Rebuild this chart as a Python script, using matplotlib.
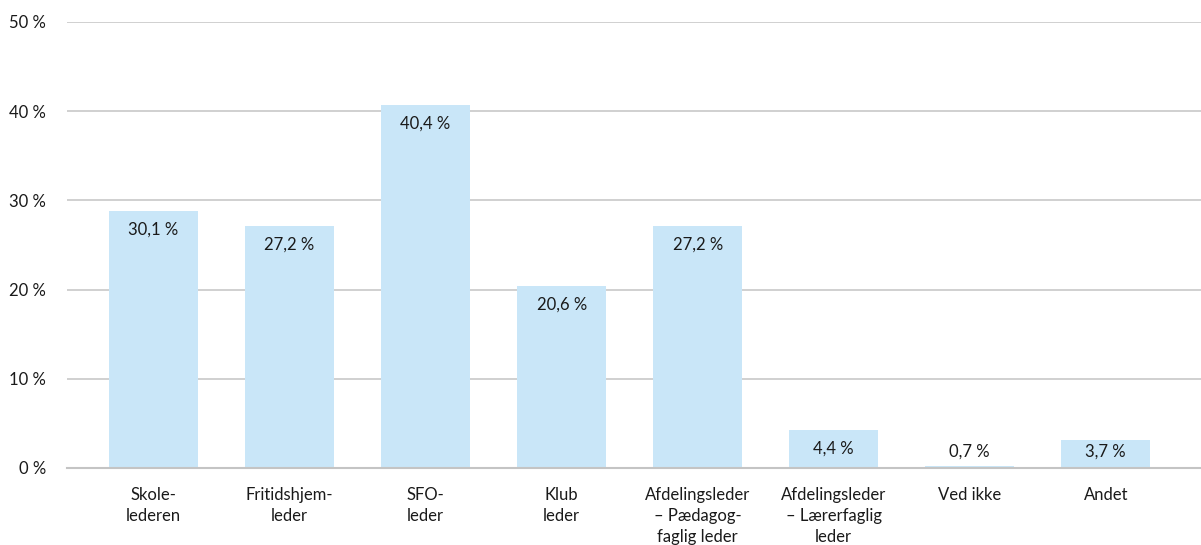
import matplotlib
matplotlib.use('Agg')
from matplotlib import pyplot as plt
import numpy as np

# data
kategorier = ['Skole-\nlederen', 'Fritidshjem-\nleder', 'SFO-\nleder', 'Klub\nleder',
              'Afdelingsleder\n– Pædagog-\nfaglig leder', 'Afdelingsleder\n– Lærerfaglig\nleder',
              'Ved ikke', 'Andet']
soejler = [28.8, 27.1, 40.7, 20.4, 27.1, 4.3, 0.2, 3.1]
etiketter = ['30,1 %', '27,2 %', '40,4 %', '20,6 %', '27,2 %', '4,4 %', '0,7 %', '3,7 %']
y_ticks = [0, 10, 20, 30, 40, 50]

plt.rcParams['font.family'] = ['Lato', 'DejaVu Sans']
tekst = '#1a1a1a'

fig = plt.figure(figsize=(12.01, 5.45), dpi=100)
ax = fig.add_axes([67/1201, 1-468/545, 1-67/1201, (468-22)/545])

x = np.arange(len(kategorier))
ax.bar(x, soejler, width=0.654, color='#c9e6f8', zorder=2)

for xi, h, lab in zip(x, soejler, etiketter):
    ax.text(xi, max(h - 2.1, 1.8), lab, ha='center', va='center',
            fontsize=12, color=tekst, zorder=3)

ax.set_ylim(0, 50)
ax.set_xlim(-0.636, 7.70)
ax.set_yticks(y_ticks)
ax.set_yticklabels([f'{v} %' for v in y_ticks], fontsize=12, color=tekst)
ax.set_xticks(x)
ax.set_xticklabels(kategorier, fontsize=12, color=tekst, linespacing=1.35, va='top')
ax.tick_params(axis='y', length=0, pad=15)
ax.tick_params(axis='x', length=0, pad=14)

ax.grid(axis='y', color='#c4c4c4', linewidth=1.1, zorder=1)
for s in ['top', 'right', 'left']:
    ax.spines[s].set_visible(False)
ax.spines['bottom'].set_color('#c4c4c4')
ax.spines['bottom'].set_linewidth(1.5)
ax.spines['bottom'].set_zorder(3)

fig.savefig('out.png', dpi=100)
